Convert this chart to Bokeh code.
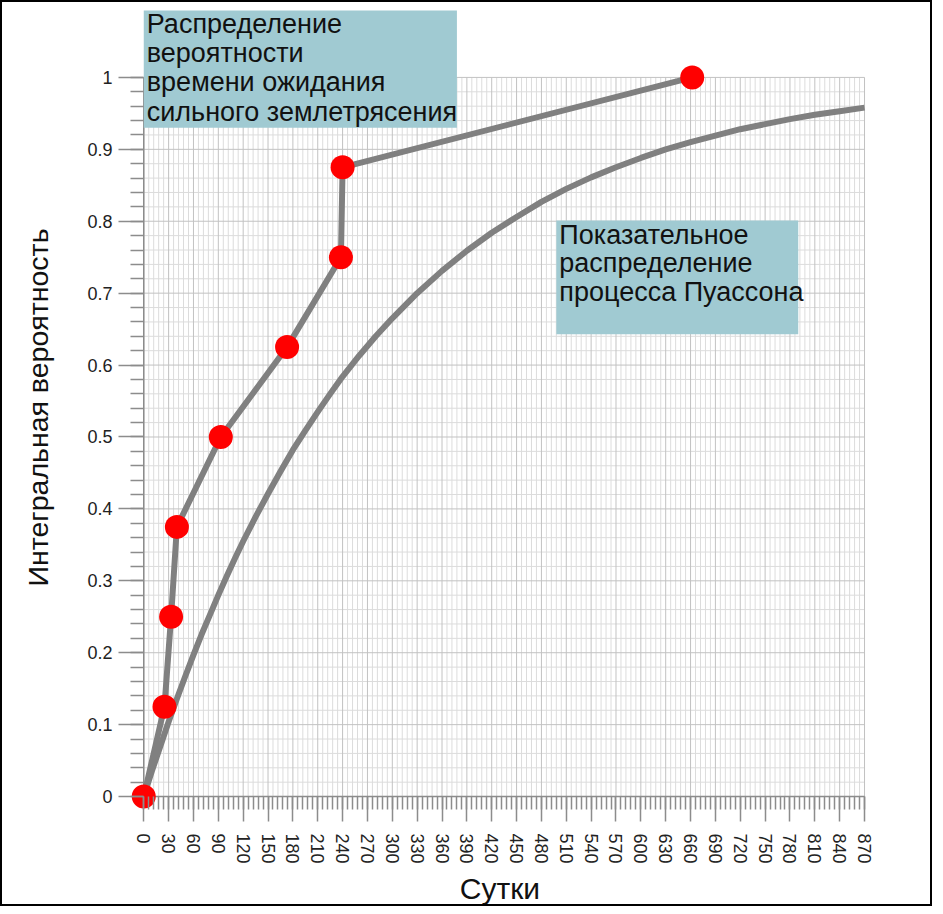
import numpy as np
from bokeh.plotting import figure
from bokeh.models import Range1d, SingleIntervalTicker, CustomJSTickFormatter, Label
from bokeh.embed import file_html
from bokeh.resources import INLINE

# Empirical cumulative distribution of waiting time for a strong earthquake
wait_days = [0, 25, 33, 40, 93, 173, 238, 240, 662]
wait_prob = [0, 0.125, 0.25, 0.375, 0.5, 0.625, 0.75, 0.875, 1.0]

# Exponential (Poisson process) distribution
poisson_days = [0, 10, 20, 30, 40, 50, 60, 70, 80, 90, 100, 110, 120, 135, 150,
                165, 180, 195, 210, 225, 240, 260, 280, 300, 330, 360, 390, 420,
                450, 480, 510, 540, 570, 600, 630, 660, 690, 720, 750, 780, 810,
                840, 870]
poisson_prob = [0, 0.036, 0.070, 0.104, 0.136, 0.167, 0.197, 0.226, 0.253, 0.280,
                0.306, 0.331, 0.355, 0.389, 0.421, 0.452, 0.482, 0.509, 0.535,
                0.560, 0.584, 0.613, 0.640, 0.665, 0.700, 0.731, 0.759, 0.784,
                0.806, 0.827, 0.845, 0.861, 0.875, 0.888, 0.900, 0.910, 0.919,
                0.928, 0.935, 0.942, 0.948, 0.953, 0.958]

x_max = 870
x_major = 30
y_major = 0.1

box1_text = "Распределение\nвероятности\nвремени ожидания\nсильного землетрясения"
box2_text = "Показательное\nраспределение\nпроцесса Пуассона"
x_title = "Сутки"
y_title = "Интегральная вероятность"

FONT = "Liberation Sans"
BOX_COLOR = "#a0cad2"
LINE_COLOR = "#808080"
AXIS_COLOR = "#8c8c8c"

p = figure(width=932, height=906, output_backend="svg", toolbar_location=None,
           x_range=Range1d(-16, 876), y_range=Range1d(-0.018, 1.1),
           min_border_left=128, min_border_right=65, min_border_top=3,
           min_border_bottom=99)
p.styles = {"border": "2px solid black"}
p.outline_line_color = None
p.xgrid.visible = False
p.ygrid.visible = False
p.background_fill_color = "white"
p.border_fill_color = "white"

# grid (drawn only over the data area)
gx = np.arange(0, x_max + 1, 6)
gy = np.round(np.arange(0, 1.0001, 0.02), 2)
gx_major = gx[gx % x_major == 0]
gx_minor = gx[gx % x_major != 0]
gy_major = np.round(np.arange(0, 1.0001, y_major), 2)
gy_minor = np.array([v for v in gy if not np.any(np.isclose(v, gy_major))])
p.segment(x0=gx_minor, y0=0, x1=gx_minor, y1=1, line_color="#dcdcdc", line_width=1)
p.segment(x0=0, y0=gy_minor, x1=x_max, y1=gy_minor, line_color="#dcdcdc", line_width=1)
p.segment(x0=gx_major, y0=0, x1=gx_major, y1=1, line_color="#c2c2c2", line_width=1)
p.segment(x0=0, y0=gy_major, x1=x_max, y1=gy_major, line_color="#c2c2c2", line_width=1)
# axis lines at the origin
p.segment(x0=[0, 0], y0=[0, 0], x1=[0, x_max], y1=[1, 0], line_color=AXIS_COLOR, line_width=1.5)

# text boxes
p.quad(left=0, right=378, top=1.093, bottom=0.930, fill_color=BOX_COLOR, line_color=None)
p.quad(left=498, right=790, top=0.801, bottom=0.643, fill_color=BOX_COLOR, line_color=None)

# curves
p.line(poisson_days, poisson_prob, line_color=LINE_COLOR, line_width=6, line_join="round")
p.line(wait_days, wait_prob, line_color=LINE_COLOR, line_width=6, line_join="round")
p.scatter(wait_days, wait_prob, size=24, fill_color="#ff0000", line_color=None)

for txt, x, y, lh, yo in [(box1_text, 0, 1.093, 0.98, 2), (box2_text, 498, 0.801, 0.96, 1)]:
    p.add_layout(Label(x=x, y=y, x_offset=3, y_offset=yo, text=txt,
                       text_font=FONT, text_font_size="27px", text_color="#111111",
                       text_baseline="top", text_align="left", text_line_height=lh))

# axes (frame edge is ~13px outside the origin; ticks reach in to the origin)
xa = p.xaxis[0]
xa.bounds = (0, x_max)
xa.ticker = SingleIntervalTicker(interval=x_major, num_minor_ticks=5)
xa.major_label_orientation = "vertical"
xa.major_label_standoff = 12
xa.axis_label = x_title
xa.axis_label_standoff = 5
xa.axis_label_text_font_size = "30px"
ya = p.yaxis[0]
ya.bounds = (0, 1)
ya.ticker = SingleIntervalTicker(interval=y_major, num_minor_ticks=5)
ya.formatter = CustomJSTickFormatter(code="return (Math.round(tick*10)/10).toString();")
ya.major_label_standoff = 6
ya.axis_label = y_title
ya.axis_label_standoff = 30
ya.axis_label_text_font_size = "28.5px"
for ax in (xa, ya):
    ax.axis_line_color = None
    ax.major_tick_line_color = AXIS_COLOR
    ax.minor_tick_line_color = AXIS_COLOR
    ax.major_tick_line_width = 1.5
    ax.minor_tick_line_width = 1.5
    ax.major_tick_out = 12
    ax.major_tick_in = 13
    ax.minor_tick_out = 0
    ax.minor_tick_in = 13
    ax.major_label_text_font = FONT
    ax.major_label_text_font_size = "18px"
    ax.major_label_text_color = "#222222"
    ax.axis_label_text_font = FONT
    ax.axis_label_text_font_style = "normal"
    ax.axis_label_text_color = "#111111"

open("out.html", "w").write(file_html(p, INLINE))
